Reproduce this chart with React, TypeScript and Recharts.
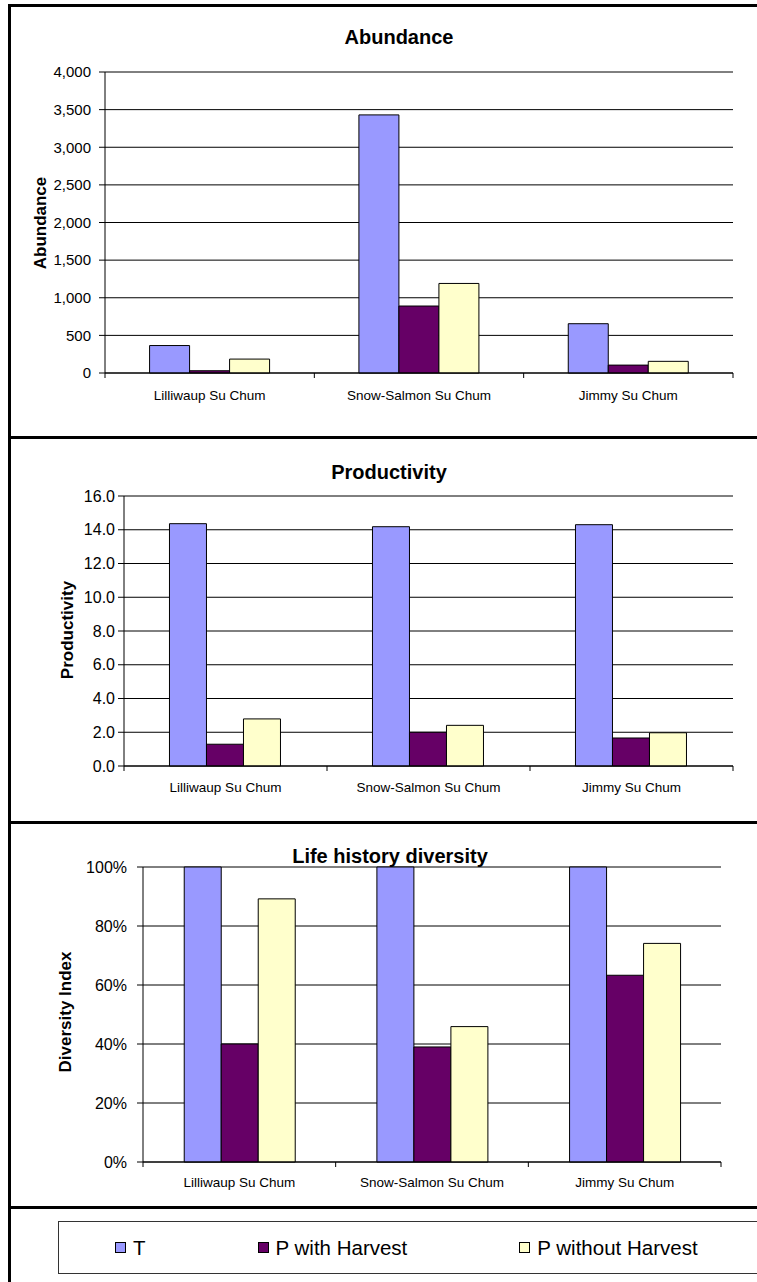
import React from 'react';
import { BarChart, Bar, XAxis, YAxis, CartesianGrid } from 'recharts';

const sites = ['Lilliwaup Su Chum', 'Snow-Salmon Su Chum', 'Jimmy Su Chum'];

const abundanceT = [365, 3430, 655];
const abundanceWithHarvest = [30, 890, 105];
const abundanceWithoutHarvest = [185, 1190, 155];

const productivityT = [14.36, 14.18, 14.3];
const productivityWithHarvest = [1.29, 2.0, 1.66];
const productivityWithoutHarvest = [2.79, 2.41, 1.97];

const diversityT = [1, 1, 1];
const diversityWithHarvest = [0.4, 0.39, 0.633];
const diversityWithoutHarvest = [0.892, 0.459, 0.741];

const abundanceTicks = [0, 500, 1000, 1500, 2000, 2500, 3000, 3500, 4000];
const productivityTicks = [0, 2, 4, 6, 8, 10, 12, 14, 16];
const diversityTicks = [0, 0.2, 0.4, 0.6, 0.8, 1];

const SERIES = [
  { key: 't', name: 'T', color: '#9999FF' },
  { key: 'pWith', name: 'P with Harvest', color: '#660066' },
  { key: 'pWithout', name: 'P without Harvest', color: '#FFFFCC' },
];

const FONT = '"Liberation Sans", Arial, Helvetica, sans-serif';
const TICK_SIZE = 6;

const buildRows = (t: number[], pWith: number[], pWithout: number[]) =>
  sites.map((site, i) => ({ site, t: t[i], pWith: pWith[i], pWithout: pWithout[i] }));

// category label plus the small marks at the band edges (Excel style)
function SiteTick(props: any) {
  const { x, y, payload, index, width, margin } = props;
  const half = payload && payload.offset ? payload.offset : width / sites.length / 2;
  const axisY = y - TICK_SIZE - margin;
  const isLast = index === sites.length - 1;
  return (
    <g>
      <line x1={x - half} x2={x - half} y1={axisY} y2={axisY + 5} stroke="#000" />
      {isLast && <line x1={x + half} x2={x + half} y1={axisY} y2={axisY + 5} stroke="#000" />}
      <text
        x={x}
        y={y}
        dy="0.71em"
        textAnchor="middle"
        fill="#000"
        fontSize={13.5}
        fontFamily={FONT}
      >
        {payload.value}
      </text>
    </g>
  );
}

interface PanelProps {
  top: number;
  height: number;
  rows: any[];
  margin: { top: number; right: number; bottom: number; left: number };
  ticks: number[];
  domain: [number, number];
  format: (v: number) => string;
  yTickSize: number;
  yTickMargin: number;
  xTickMargin: number;
  gap: string;
  title: string;
  titleX: number;
  titleY: number;
  yLabel: string;
  yLabelX: number;
  yLabelY: number;
}

function Panel(p: PanelProps) {
  return (
    <>
      <div style={{ position: 'absolute', left: 0, top: p.top }}>
        <BarChart
          width={757}
          height={p.height}
          data={p.rows}
          margin={p.margin}
          barCategoryGap={p.gap}
          barGap={0}
        >
          <CartesianGrid
            xAxisId="site"
            yAxisId="val"
            vertical={false}
            stroke="#000"
            strokeWidth={1}
          />
          <XAxis
            xAxisId="site"
            dataKey="site"
            height={30}
            axisLine={{ stroke: '#000' }}
            tickLine={false}
            tickSize={TICK_SIZE}
            tickMargin={p.xTickMargin}
            interval={0}
            tick={(tp: any) => <SiteTick {...tp} margin={p.xTickMargin} />}
          />
          <YAxis
            yAxisId="val"
            width={60}
            domain={p.domain}
            ticks={p.ticks}
            interval={0}
            tickFormatter={p.format}
            axisLine={{ stroke: '#000' }}
            tickLine={{ stroke: '#000' }}
            tickSize={TICK_SIZE}
            tickMargin={p.yTickMargin}
            tick={{ fill: '#000', fontSize: p.yTickSize, fontFamily: FONT }}
          />
          {/* right-hand plot border */}
          <YAxis
            yAxisId="frame"
            orientation="right"
            width={0}
            domain={[0, 1]}
            tick={false}
            tickLine={false}
            axisLine={{ stroke: '#808080' }}
          />
          {SERIES.map((s) => (
            <Bar
              key={s.key}
              xAxisId="site"
              yAxisId="val"
              dataKey={s.key}
              name={s.name}
              fill={s.color}
              stroke="#000"
              strokeWidth={1}
              isAnimationActive={false}
            />
          ))}
        </BarChart>
      </div>
      <div
        style={{
          position: 'absolute',
          left: p.titleX,
          top: p.titleY,
          transform: 'translate(-50%, -50%)',
          fontFamily: FONT,
          fontWeight: 'bold',
          fontSize: 20,
          whiteSpace: 'nowrap',
          color: '#000',
        }}
      >
        {p.title}
      </div>
      <div
        style={{
          position: 'absolute',
          left: p.yLabelX,
          top: p.yLabelY,
          transform: 'translate(-50%, -50%) rotate(-90deg)',
          fontFamily: FONT,
          fontWeight: 'bold',
          fontSize: 17,
          whiteSpace: 'nowrap',
          color: '#000',
        }}
      >
        {p.yLabel}
      </div>
    </>
  );
}

const rule = (top: number) => (
  <div style={{ position: 'absolute', left: 8, top, width: 749, height: 3, background: '#000' }} />
);

export default function App() {
  return (
    <div
      style={{
        position: 'absolute',
        left: 0,
        top: 0,
        width: 757,
        height: 1282,
        background: '#fff',
        overflow: 'hidden',
      }}
    >
      <Panel
        top={0}
        height={436}
        rows={buildRows(abundanceT, abundanceWithHarvest, abundanceWithoutHarvest)}
        margin={{ top: 72, right: 24, bottom: 33, left: 45 }}
        ticks={abundanceTicks}
        domain={[0, 4000]}
        format={(v) => v.toLocaleString('en-US')}
        yTickSize={15}
        yTickMargin={8}
        xTickMargin={11}
        gap="21.3%"
        title="Abundance"
        titleX={399}
        titleY={37}
        yLabel="Abundance"
        yLabelX={41}
        yLabelY={223}
      />
      <Panel
        top={439}
        height={382}
        rows={buildRows(productivityT, productivityWithHarvest, productivityWithoutHarvest)}
        margin={{ top: 57, right: 24, bottom: 25, left: 64 }}
        ticks={productivityTicks}
        domain={[0, 16]}
        format={(v) => v.toFixed(1)}
        yTickSize={16}
        yTickMargin={3}
        xTickMargin={10}
        gap="22.4%"
        title="Productivity"
        titleX={389}
        titleY={472}
        yLabel="Productivity"
        yLabelX={68}
        yLabelY={630}
      />
      <Panel
        top={824}
        height={382}
        rows={buildRows(diversityT, diversityWithHarvest, diversityWithoutHarvest)}
        margin={{ top: 43, right: 36, bottom: 14, left: 83 }}
        ticks={diversityTicks}
        domain={[0, 1]}
        format={(v) => `${Math.round(v * 100)}%`}
        yTickSize={16}
        yTickMargin={10}
        xTickMargin={9.5}
        gap="21.4%"
        title="Life history diversity"
        titleX={390}
        titleY={856}
        yLabel="Diversity Index"
        yLabelX={66}
        yLabelY={1012}
      />

      {/* frame lines */}
      <div style={{ position: 'absolute', left: 8, top: 4, width: 3, height: 1278, background: '#000' }} />
      {rule(4)}
      {rule(436)}
      {rule(821)}
      {rule(1206)}

      {/* legend */}
      <div
        style={{
          position: 'absolute',
          left: 58,
          top: 1221,
          width: 720,
          height: 53,
          boxSizing: 'border-box',
          border: '1px solid #333',
          display: 'flex',
          alignItems: 'center',
          paddingLeft: 56,
          gap: 112,
          fontFamily: FONT,
          fontSize: 20.5,
          color: '#000',
        }}
      >
        {SERIES.map((s) => (
          <div key={s.key} style={{ display: 'flex', alignItems: 'center', whiteSpace: 'nowrap' }}>
            <span
              style={{
                display: 'inline-block',
                width: 11,
                height: 11,
                boxSizing: 'border-box',
                border: '1px solid #000',
                background: s.color,
                marginRight: 7,
              }}
            />
            {s.name}
          </div>
        ))}
      </div>
    </div>
  );
}
